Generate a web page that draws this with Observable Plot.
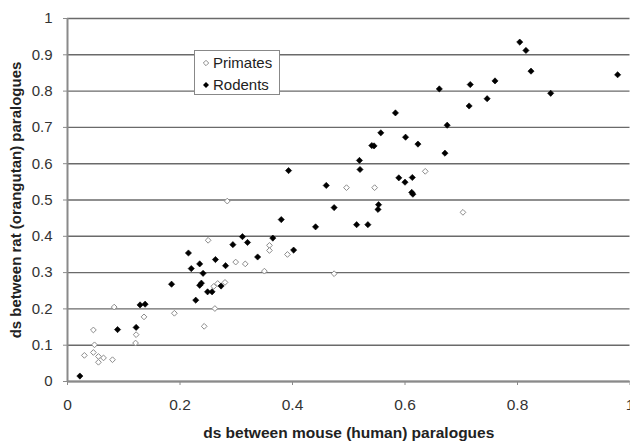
<!DOCTYPE html>
<html>
<head>
<meta charset="utf-8">
<script src="https://cdn.jsdelivr.net/npm/d3@7"></script>
<script src="https://cdn.jsdelivr.net/npm/@observablehq/plot@0.6"></script>
<style>
  html, body { margin: 0; padding: 0; background: #fff; }
  #wrap { position: relative; width: 630px; height: 442px; overflow: hidden; }
  #legend { position: absolute; left: 194px; top: 50px; width: 86px; height: 45px;
    border: 1px solid #888; background: #fff; box-sizing: border-box;
    font-family: "Liberation Sans", Arial, sans-serif; font-size: 15px; color: #222; }
  #legend div { position: absolute; left: 0; height: 20px; line-height: 20px; white-space: nowrap; }
  #legend svg { position: absolute; left: 7px; top: 6px; }
  #legend span { position: absolute; left: 18px; top: 0; }
</style>
</head>
<body>
<div id="wrap"></div>
<script>
const primatesX = [0.030,0.046,0.048,0.046,0.055,0.055,0.064,0.080,0.083,0.121,0.122,0.136,0.190,0.243,0.250,0.262,0.260,0.267,0.280,0.284,0.299,0.316,0.350,0.359,0.359,0.391,0.474,0.496,0.546,0.636,0.703];
const primatesY = [0.072,0.142,0.101,0.080,0.069,0.053,0.065,0.060,0.205,0.106,0.129,0.178,0.188,0.152,0.389,0.201,0.262,0.270,0.273,0.497,0.329,0.324,0.304,0.375,0.361,0.350,0.297,0.534,0.534,0.579,0.466];
const rodentsX = [0.022,0.089,0.122,0.129,0.138,0.185,0.215,0.220,0.228,0.235,0.241,0.238,0.235,0.249,0.257,0.263,0.273,0.281,0.294,0.311,0.320,0.338,0.365,0.380,0.393,0.402,0.441,0.460,0.474,0.514,0.534,0.519,0.520,0.541,0.545,0.553,0.552,0.557,0.583,0.589,0.600,0.601,0.613,0.612,0.614,0.623,0.661,0.671,0.675,0.714,0.716,0.746,0.760,0.804,0.815,0.824,0.859,0.978];
const rodentsY = [0.015,0.143,0.149,0.211,0.213,0.268,0.354,0.311,0.224,0.324,0.298,0.271,0.265,0.247,0.247,0.336,0.263,0.319,0.377,0.399,0.383,0.343,0.395,0.446,0.581,0.362,0.426,0.540,0.479,0.432,0.432,0.609,0.584,0.650,0.649,0.487,0.474,0.685,0.740,0.561,0.549,0.673,0.562,0.521,0.516,0.654,0.806,0.629,0.706,0.759,0.818,0.779,0.828,0.935,0.912,0.855,0.794,0.845];
const yTicks = [0,0.1,0.2,0.3,0.4,0.5,0.6,0.7,0.8,0.9,1];
const xTicks = [0,0.2,0.4,0.6,0.8,1];
const seriesNames = ["Primates", "Rodents"];
const xTitle = "ds between mouse (human) paralogues";
const yTitle = "ds between rat (orangutan) paralogues";

const primates = primatesX.map((x, i) => ({x, y: primatesY[i]}));
const rodents = rodentsX.map((x, i) => ({x, y: rodentsY[i]}));
const fmt = d => String(+d.toFixed(1));

const chart = Plot.plot({
  width: 630,
  height: 442,
  marginLeft: 67,
  marginRight: 0.5,
  marginTop: 18,
  marginBottom: 61,
  style: {fontFamily: "'Liberation Sans', Arial, sans-serif", background: "#fff", overflow: "visible"},
  x: {domain: [0, 1]},
  y: {domain: [0, 1]},
  marks: [
    Plot.gridY(yTicks, {stroke: "#6a6a6a", strokeOpacity: 1, strokeWidth: 1.4}),
    Plot.ruleX([0], {stroke: "#8a8a8a", strokeWidth: 2}),
    Plot.ruleY([0], {stroke: "#8a8a8a", strokeWidth: 2}),
    Plot.axisY(yTicks, {tickSize: 4, tickPadding: 11, tickFormat: fmt, fontSize: 15, fill: "#333", stroke: "#8a8a8a", label: null}),
    Plot.axisX(xTicks, {tickSize: 4, tickPadding: 13, tickFormat: fmt, fontSize: 15.5, fill: "#333", stroke: "#8a8a8a", label: null}),
    Plot.text([xTitle], {frameAnchor: "bottom", dy: 56, text: d => d, fontSize: 15.5, fontWeight: "bold", fill: "#222"}),
    Plot.text([yTitle], {frameAnchor: "left", textAnchor: "middle", dx: -51, rotate: -90, text: d => d, fontSize: 15, fontWeight: "bold", fill: "#222"}),
    Plot.dot(primates, {x: "x", y: "y", symbol: "diamond2", r: 2.6, stroke: "#8c8c8c", fill: "#fff", strokeWidth: 1}),
    Plot.dot(rodents, {x: "x", y: "y", symbol: "diamond2", r: 2.8, fill: "#000", stroke: "#000", strokeWidth: 0.6})
  ]
});
document.getElementById("wrap").appendChild(chart);

const legend = document.createElement("div");
legend.id = "legend";
legend.innerHTML = seriesNames.map((n, i) => {
  const marker = i === 0
    ? '<svg width="8" height="8"><path d="M4,1.3L6.7,4L4,6.7L1.3,4Z" fill="#fff" stroke="#8c8c8c" stroke-width="1"/></svg>'
    : '<svg width="8" height="8"><path d="M4,1L7,4L4,7L1,4Z" fill="#000"/></svg>';
  return `<div style="top:${2 + i * 22}px;width:100%">${marker}<span>${n}</span></div>`;
}).join("");
document.getElementById("wrap").appendChild(legend);
</script>
</body>
</html>
